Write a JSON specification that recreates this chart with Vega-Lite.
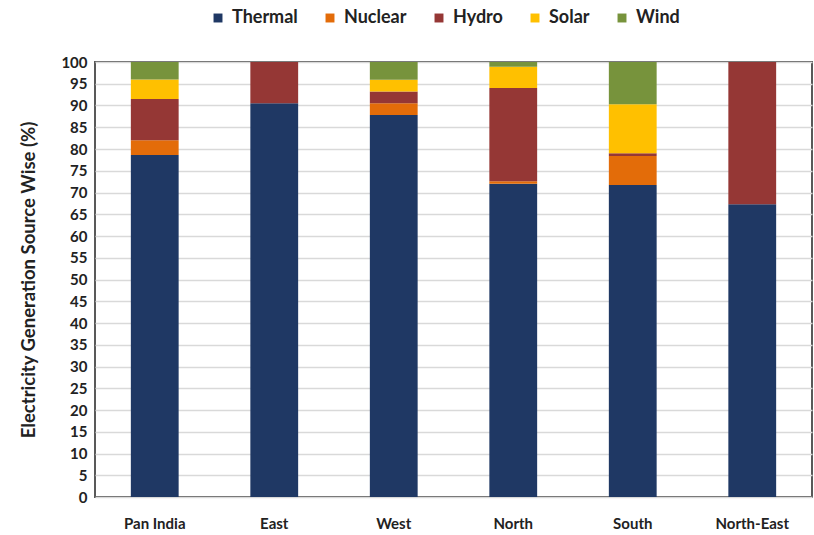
{
  "$schema": "https://vega.github.io/schema/vega-lite/v6.json",
  "autosize": "none",
  "width": 717,
  "height": 435,
  "padding": {"left": 95, "top": 62, "right": 2, "bottom": 38},
  "background": "white",
  "config": {
    "font": "Lato",
    "view": {"stroke": "#595959", "strokeWidth": 2}
  },
  "data": {
    "values": [
      {"region": "Pan India", "source": "Thermal", "ord": 1, "value": 78.6},
      {"region": "Pan India", "source": "Nuclear", "ord": 2, "value": 3.4},
      {"region": "Pan India", "source": "Hydro", "ord": 3, "value": 9.5},
      {"region": "Pan India", "source": "Solar", "ord": 4, "value": 4.5},
      {"region": "Pan India", "source": "Wind", "ord": 5, "value": 4.0},
      {"region": "East", "source": "Thermal", "ord": 1, "value": 90.5},
      {"region": "East", "source": "Hydro", "ord": 3, "value": 9.5},
      {"region": "West", "source": "Thermal", "ord": 1, "value": 87.8},
      {"region": "West", "source": "Nuclear", "ord": 2, "value": 2.7},
      {"region": "West", "source": "Hydro", "ord": 3, "value": 2.7},
      {"region": "West", "source": "Solar", "ord": 4, "value": 2.7},
      {"region": "West", "source": "Wind", "ord": 5, "value": 4.1},
      {"region": "North", "source": "Thermal", "ord": 1, "value": 72.0},
      {"region": "North", "source": "Nuclear", "ord": 2, "value": 0.6},
      {"region": "North", "source": "Hydro", "ord": 3, "value": 21.4},
      {"region": "North", "source": "Solar", "ord": 4, "value": 4.9},
      {"region": "North", "source": "Wind", "ord": 5, "value": 1.1},
      {"region": "South", "source": "Thermal", "ord": 1, "value": 71.7},
      {"region": "South", "source": "Nuclear", "ord": 2, "value": 6.7},
      {"region": "South", "source": "Hydro", "ord": 3, "value": 0.6},
      {"region": "South", "source": "Solar", "ord": 4, "value": 11.3},
      {"region": "South", "source": "Wind", "ord": 5, "value": 9.7},
      {"region": "North-East", "source": "Thermal", "ord": 1, "value": 67.3},
      {"region": "North-East", "source": "Hydro", "ord": 3, "value": 32.7}
    ]
  },
  "mark": {"type": "bar"},
  "encoding": {
    "x": {
      "field": "region",
      "type": "nominal",
      "sort": ["Pan India", "East", "West", "North", "South", "North-East"],
      "scale": {"paddingInner": 0.6, "paddingOuter": 0.3},
      "axis": {
        "title": null,
        "labelAngle": 0,
        "labelFont": "Lato",
        "labelFontSize": 15,
        "labelFontWeight": "bold",
        "labelColor": "#222",
        "labelPadding": 19,
        "ticks": false,
        "domain": false
      }
    },
    "y": {
      "field": "value",
      "type": "quantitative",
      "stack": "zero",
      "scale": {"domain": [0, 100], "nice": false},
      "axis": {
        "title": "Electricity Generation Source Wise (%)",
        "titleFont": "Lato",
        "titleFontSize": 18.5,
        "titleFontWeight": "bold",
        "titleColor": "#222",
        "titlePadding": 22,
        "values": [0,5,10,15,20,25,30,35,40,45,50,55,60,65,70,75,80,85,90,95,100],
        "labelFont": "Lato",
        "labelFontSize": 15,
        "labelFontWeight": "bold",
        "labelColor": "#222",
        "labelPadding": 8,
        "ticks": false,
        "domain": false,
        "grid": true,
        "gridColor": "#d9d9d9",
        "gridWidth": 1.5
      }
    },
    "color": {
      "field": "source",
      "type": "nominal",
      "scale": {
        "domain": ["Thermal", "Nuclear", "Hydro", "Solar", "Wind"],
        "range": ["#1f3864", "#e36c09", "#953735", "#ffc000", "#77933c"]
      },
      "legend": {
        "title": null,
        "orient": "none",
        "direction": "horizontal",
        "legendX": 114,
        "legendY": -53,
        "symbolType": "square",
        "symbolSize": 80,
        "symbolStrokeWidth": 0,
        "labelFont": "Lato",
        "labelFontSize": 18,
        "labelFontWeight": "bold",
        "labelColor": "#222",
        "columnPadding": 23,
        "labelOffset": 5
      }
    },
    "order": {"field": "ord", "type": "quantitative", "sort": "ascending"}
  }
}
